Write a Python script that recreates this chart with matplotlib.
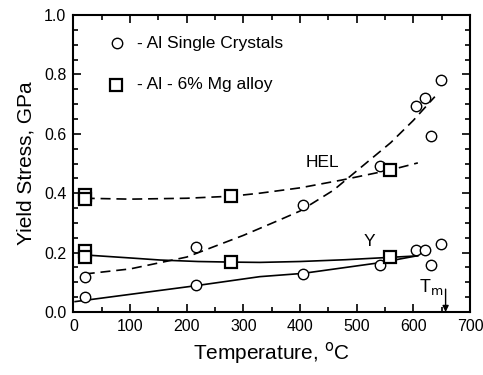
import matplotlib
matplotlib.use("Agg")
import matplotlib.pyplot as plt
from matplotlib.ticker import MultipleLocator

plt.rcParams['font.family'] = ['Liberation Sans', 'DejaVu Sans']

# Al single crystals (circles)
al_T = [20, 20, 216, 216, 406, 406, 541, 541, 605, 605, 620, 620, 631, 631, 648, 648]
al_s = [0.049, 0.118, 0.090, 0.219, 0.129, 0.359, 0.157, 0.490, 0.209, 0.692,
        0.209, 0.720, 0.159, 0.591, 0.229, 0.781]

# Al - 6% Mg alloy (squares)
mg_T = [20, 20, 20, 20, 279, 279, 559, 559]
mg_s = [0.393, 0.380, 0.204, 0.185, 0.389, 0.168, 0.479, 0.184]

# trend curves
al_hel_T = [20, 100, 200, 300, 364, 400, 459, 500, 560, 600, 638]
al_hel_s = [0.128, 0.145, 0.185, 0.258, 0.310, 0.340, 0.410, 0.475, 0.570, 0.645, 0.725]

mg_hel_T = [20, 100, 200, 280, 329, 400, 473, 559, 608]
mg_hel_s = [0.383, 0.380, 0.383, 0.390, 0.400, 0.418, 0.444, 0.478, 0.502]

al_y_T = [3, 214, 329, 405, 541, 606]
al_y_s = [0.035, 0.088, 0.119, 0.130, 0.166, 0.189]

mg_y_T = [21, 100, 153, 220, 279, 329, 400, 480, 559, 608]
mg_y_s = [0.192, 0.182, 0.175, 0.170, 0.168, 0.167, 0.170, 0.176, 0.184, 0.189]

fig = plt.figure(figsize=(4.83, 3.75), dpi=100)
ax = fig.add_axes([0.152, 0.168, 0.821, 0.792])

dash = dict(color='black', lw=1.2, dashes=(6, 3.5))
ax.plot(al_hel_T, al_hel_s, **dash)
ax.plot(mg_hel_T, mg_hel_s, **dash)
ax.plot(al_y_T, al_y_s, color='black', lw=1.2)
ax.plot(mg_y_T, mg_y_s, color='black', lw=1.2)

ax.plot(al_T, al_s, 'o', ms=7.5, mfc='white', mec='black', mew=1.0, ls='none')
ax.plot(mg_T, mg_s, 's', ms=9, mfc='white', mec='black', mew=1.6, ls='none')

# legend drawn as text
ax.plot([77], [0.905], 'o', ms=7.5, mfc='white', mec='black', mew=1.0)
ax.plot([75], [0.765], 's', ms=9, mfc='white', mec='black', mew=1.6)
ax.text(112, 0.905, '- Al Single Crystals', fontsize=12.5, va='center', ha='left')
ax.text(112, 0.765, '- Al - 6% Mg alloy', fontsize=12.5, va='center', ha='left')

ax.text(440, 0.505, 'HEL', fontsize=12.5, ha='center', va='center')
ax.text(523, 0.238, 'Y', fontsize=12.5, ha='center', va='center')
ax.text(632, 0.085, r'T$_{\mathrm{m}}$', fontsize=13, ha='center', va='center')
ax.annotate('', xy=(657, 0.0), xytext=(657, 0.077),
            arrowprops=dict(arrowstyle='-|>', color='black', lw=1.0,
                            mutation_scale=9, shrinkA=0, shrinkB=0))

ax.set_xlim(0, 700)
ax.set_ylim(0, 1.0)
ax.xaxis.set_major_locator(MultipleLocator(100))
ax.xaxis.set_minor_locator(MultipleLocator(50))
ax.yaxis.set_major_locator(MultipleLocator(0.2))
ax.yaxis.set_minor_locator(MultipleLocator(0.05))
ax.yaxis.set_major_formatter(matplotlib.ticker.FormatStrFormatter('%.1f'))
ax.tick_params(which='both', direction='in', top=True, right=True, labelsize=11.5, width=1.2)
ax.tick_params(which='major', length=6, pad=5)
ax.tick_params(which='minor', length=3.5)
for s in ax.spines.values():
    s.set_linewidth(1.5)

ax.set_xlabel('Temperature, $^{\\mathrm{o}}$C', fontsize=15, labelpad=4)
ax.set_ylabel('Yield Stress, GPa', fontsize=15, labelpad=6)

fig.savefig('out.png', dpi=100)
